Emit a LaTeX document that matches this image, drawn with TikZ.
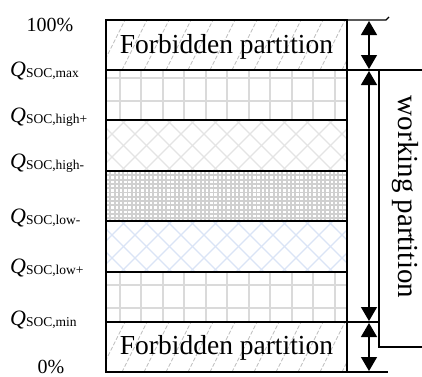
\documentclass[tikz,border=0pt]{standalone}
\usepackage{fontspec}
\setmainfont{Liberation Serif}
\usetikzlibrary{arrows.meta}
\definecolor{gridgray}{RGB}{218,218,218}
\definecolor{diamgray}{RGB}{228,228,228}
\definecolor{diamblue}{RGB}{218,228,246}
\definecolor{dotgray}{RGB}{208,208,208}
\definecolor{hatchgray}{RGB}{190,190,190}
\tikzset{
  outline/.style={line width=1.6pt, black},
  extline/.style={line width=1.3pt, black},
  forbid/.style={hatchgray, line width=0.8pt, dash pattern=on 4pt off 2pt},
  gridl/.style={gridgray, line width=2pt},
  diam/.style={diamgray, line width=1.1pt},
  diamb/.style={diamblue, line width=1.1pt},
  dotl/.style={dotgray, line width=1.9pt},
  dimarr/.style={line width=1.3pt, {Triangle[width=16pt,length=14pt]}-{Triangle[width=16pt,length=14pt]}},
  bigtxt/.style={font=\fontsize{27.5}{30}\selectfont, inner sep=0pt},
  worktxt/.style={font=\fontsize{29}{31}\selectfont, inner sep=0pt},
  lbl/.style={font=\fontsize{20}{22}\selectfont, inner sep=0pt, anchor=base west},
  pct/.style={font=\fontsize{20}{22}\selectfont, inner sep=0pt, anchor=base},
}
\newcommand{\qsoc}[1]{{\fontsize{22}{23}\selectfont\itshape Q}\raisebox{-1.5pt}{\fontsize{13.5}{14}\selectfont SOC,#1}}
\begin{document}
\begin{tikzpicture}[x=1pt,y=-1pt]
\useasboundingbox (0,0) rectangle (422,376);
\fill[white] (0,0) rectangle (422,376);
% forbidden hatches
\foreach \ya/\yb in {20/70,322/372}{
  \begin{scope}
    \clip (106,\ya) rectangle (347,\yb);
    \foreach \i in {-3,...,12} \draw[forbid] ({100+22*\i},\yb) -- ++(26,-52);
  \end{scope}
}
% grid bands
\foreach \ya/\yb/\ha/\hb in {70/120/78/101,272/322/285/308}{
  \begin{scope}
    \clip (106,\ya) rectangle (347,\yb);
    \foreach \i in {0,...,10} \draw[gridl] ({120+21.45*\i},\ya) -- ++(0,50);
    \draw[gridl] (106,\ha) -- (347,\ha);
    \draw[gridl] (106,\hb) -- (347,\hb);
  \end{scope}
}
% gray diamonds
\begin{scope}
  \clip (106,120) rectangle (347,171);
  \foreach \i in {-3,...,14} {
    \draw[diam] ({98+23*\i},120) -- ++(51,51);
    \draw[diam] ({98+23*\i},171) -- ++(51,-51);
  }
\end{scope}
% blue diamonds
\begin{scope}
  \clip (106,221) rectangle (347,272);
  \foreach \i in {-3,...,14} {
    \draw[diamb] ({98+23*\i},221) -- ++(51,51);
    \draw[diamb] ({98+23*\i},272) -- ++(51,-51);
  }
\end{scope}
% dotted band
\begin{scope}
  \clip (106,171) rectangle (347,221);
  \foreach \i in {0,...,56} \draw[dotl] ({106+4.3*\i},171) -- ++(0,50);
  \foreach \j in {0,...,12} \draw[dotl] (106,{171+4.3*\j}) -- ++(241,0);
\end{scope}
% outlines
\coordinate (tl) at (106,20);
\coordinate (br) at (347,372);
\draw[outline] (tl) rectangle (br);
\foreach \y in {70,120,171,221,272,322} \draw[outline] (106,\y) -- (347,\y);
% right side extension lines
\coordinate (ttop) at (347,20);
\coordinate (tend) at (386,20);
\coordinate (ttick) at (389,17);
\draw[extline] (ttop) -- (tend) -- (ttick);
\coordinate (wtl) at (347,70);
\coordinate (wtr) at (422,70);
\draw[extline] (wtl) -- (wtr);
\coordinate (wbl) at (347,322);
\coordinate (wbx) at (379,322);
\draw[extline] (wbl) -- (wbx);
\coordinate (bx1) at (379,70);
\coordinate (bx2) at (379,347);
\coordinate (bx3) at (422,347);
\draw[extline] (bx1) -- (bx2) -- (bx3);
\coordinate (bbl) at (347,372);
\coordinate (bbr) at (388,372);
\draw[extline] (bbl) -- (bbr);
% dimension arrows
\coordinate (a1) at (369,21);
\coordinate (a2) at (369,69);
\coordinate (a3) at (369,71);
\coordinate (a4) at (369,321);
\coordinate (a5) at (369,323);
\coordinate (a6) at (369,371);
\draw[dimarr] (a1) -- (a2);
\draw[dimarr] (a3) -- (a4);
\draw[dimarr] (a5) -- (a6);
% texts
\node[bigtxt, anchor=base] (ftop) at (226.5,53) {Forbidden partition};
\node[bigtxt, anchor=base] (fbot) at (226.5,354) {Forbidden partition};
\node[worktxt, rotate=-90, anchor=center] (work) at (405,197) {working partition};
\node[pct] (p100) at (50,31) {100\%};
\node[pct] (p0) at (51,373) {0\%};
\node[lbl] (qmax) at (10,76) {\qsoc{max}};
\node[lbl] (qhp) at (10,122) {\qsoc{high+}};
\node[lbl] (qhm) at (10,168) {\qsoc{high-}};
\node[lbl] (qlm) at (10,223) {\qsoc{low-}};
\node[lbl] (qlp) at (10,273) {\qsoc{low+}};
\node[lbl] (qmin) at (10,325) {\qsoc{min}};
\end{tikzpicture}
\end{document}
